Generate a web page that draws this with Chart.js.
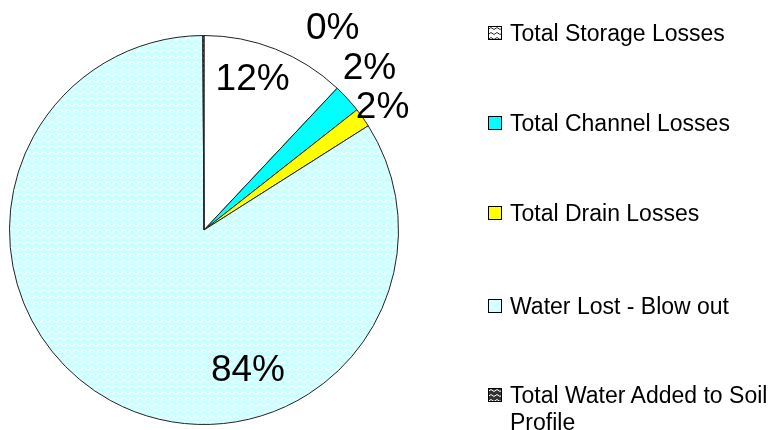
<!DOCTYPE html>
<html>
<head>
<meta charset="utf-8">
<script src="https://cdn.jsdelivr.net/npm/chart.js@4"></script>
<style>
    html, body { margin: 0; padding: 0; background: #fff; }
    #wrap { position: relative; width: 773px; height: 430px; }
    #legend { position: absolute; left: 488px; top: 0; font: 23px 'Liberation Sans', Arial, sans-serif; color: #000; }
    .item { position: absolute; left: 0; display: flex; align-items: flex-start; line-height: 27px; white-space: nowrap; }
    .item canvas { margin-top: 6px; margin-right: 8px; }
</style>
</head>
<body>
<div id="wrap">
    <canvas id="pie" width="773" height="430"></canvas>
    <div id="legend"></div>
</div>
<script>
'use strict';

const categories = ['Total Storage Losses', 'Total Channel Losses', 'Total Drain Losses',
                    'Water Lost - Blow out', 'Total Water Added to Soil Profile'];
const legendLines = [['Total Storage Losses'], ['Total Channel Losses'], ['Total Drain Losses'],
                     ['Water Lost - Blow out'], ['Total Water Added to Soil', 'Profile']];
const shares = [12.0, 2.4, 1.6, 83.9, 0.1];
const pctLabels = ['12%', '2%', '2%', '84%', '0%'];

// label anchor relative to pie center, in units of radius (Excel-ish placement)
const labelAnchor = [[0.25, -0.774], [0.851, -0.831], [0.918, -0.626], [0.226, 0.723], [0.662, -1.036]];
const legendTops = [20, 110, 200, 293, 382];

function zigzag(bg, fg, w, h) {
    const c = document.createElement('canvas');
    c.width = w;
    c.height = h;
    const ctx = c.getContext('2d');
    ctx.fillStyle = bg;
    ctx.fillRect(0, 0, w, h);
    ctx.strokeStyle = fg;
    ctx.lineWidth = 1;
    ctx.beginPath();
    ctx.moveTo(0, h - 1.5);
    ctx.lineTo(w / 2, 1.5);
    ctx.lineTo(w, h - 1.5);
    ctx.stroke();
    return c;
}

const ctx = document.getElementById('pie').getContext('2d');
const blowout = ctx.createPattern(zigzag('#ccffff', '#ffffff', 8, 6), 'repeat');
const soil = ctx.createPattern(zigzag('#333333', '#ffffff', 6, 5), 'repeat');
const fills = ['#ffffff', '#00ffff', '#ffff00', blowout, soil];

const pctPlugin = {
    id: 'pct',
    afterDatasetsDraw(chart) {
        const arcs = chart.getDatasetMeta(0).data;
        const c = chart.ctx;
        c.save();
        c.font = '37px "Liberation Sans", Arial, sans-serif';
        c.fillStyle = '#000';
        c.textAlign = 'center';
        c.textBaseline = 'middle';
        arcs.forEach((a, i) => {
            const r = a.outerRadius;
            c.fillText(pctLabels[i], a.x + labelAnchor[i][0] * r, a.y + labelAnchor[i][1] * r);
        });
        c.restore();
    }
};

new Chart(ctx, {
    type: 'pie',
    data: {
        labels: categories,
        datasets: [{
            data: shares,
            backgroundColor: fills,
            borderColor: '#222',
            borderWidth: 1
        }]
    },
    options: {
        responsive: false,
        animation: false,
        layout: {padding: {left: 9, right: 374, top: 35, bottom: 5}},
        plugins: {
            legend: {display: false},
            tooltip: {enabled: false}
        }
    },
    plugins: [pctPlugin]
});

// legend
const legendIcons = [
    zigzag('#ffffff', '#333333', 6, 5),
    null, null, null,
    zigzag('#333333', '#ffffff', 6, 5)
];
const legendEl = document.getElementById('legend');
categories.forEach((name, i) => {
    const item = document.createElement('div');
    item.className = 'item';
    item.style.top = legendTops[i] + 'px';
    const box = document.createElement('canvas');
    box.width = 14;
    box.height = 14;
    const bc = box.getContext('2d');
    bc.fillStyle = legendIcons[i] ? bc.createPattern(legendIcons[i], 'repeat') : fills[i];
    bc.fillRect(0, 0, 14, 14);
    bc.strokeStyle = '#000';
    bc.lineWidth = 1;
    bc.strokeRect(0.5, 0.5, 13, 13);
    item.appendChild(box);
    const txt = document.createElement('div');
    txt.innerHTML = legendLines[i].join('<br>');
    item.appendChild(txt);
    legendEl.appendChild(item);
});
</script>
</body>
</html>
